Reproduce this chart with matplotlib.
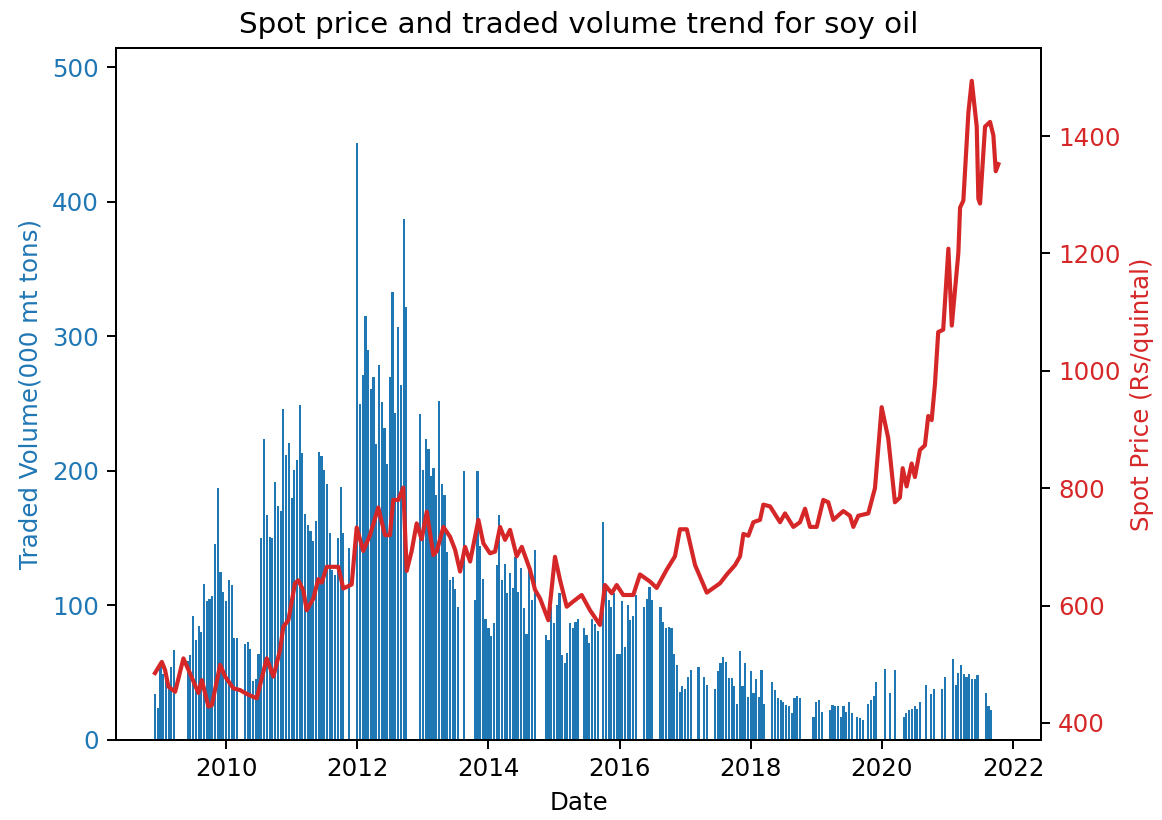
import pandas as pd
import matplotlib
matplotlib.use("Agg")
import matplotlib.pyplot as plt
import matplotlib.dates as mdates

# traded volume ('000 mt), two readings per month (1st and 16th), 0 = no trade
vol_2008 = [34, 24]  # Dec only
vol_2009 = [56, 49, 45, 39, 54, 67, 0, 0, 0, 0, 59, 63, 92, 74, 85, 80, 116, 103, 105, 107, 146, 187, 125, 110]
vol_2010 = [103, 119, 115, 76, 76, 0, 0, 71, 73, 68, 44, 45, 64, 150, 224, 167, 151, 150, 192, 174, 170, 246, 212, 221]
vol_2011 = [180, 201, 208, 249, 213, 168, 160, 155, 148, 163, 214, 211, 201, 190, 154, 126, 123, 150, 188, 154, 0, 143, 0, 0]
vol_2012 = [444, 250, 271, 315, 290, 261, 270, 220, 279, 251, 232, 205, 270, 333, 243, 307, 264, 387, 322, 0, 0, 0, 0, 242]
vol_2013 = [201, 224, 216, 196, 202, 182, 252, 190, 182, 140, 119, 121, 112, 99, 0, 200, 0, 0, 0, 104, 200, 144, 120, 90]
vol_2014 = [83, 77, 87, 130, 167, 119, 131, 109, 124, 113, 136, 110, 128, 98, 79, 126, 104, 141, 0, 0, 0, 78, 74, 99]
vol_2015 = [87, 100, 109, 63, 57, 65, 87, 83, 88, 90, 0, 83, 78, 72, 90, 86, 81, 0, 162, 112, 104, 99, 109, 64]
vol_2016 = [64, 103, 69, 100, 89, 92, 108, 0, 0, 99, 105, 114, 104, 0, 0, 99, 88, 83, 84, 83, 64, 56, 36, 40]
vol_2017 = [38, 47, 52, 0, 0, 54, 0, 47, 41, 0, 0, 38, 51, 57, 62, 58, 46, 46, 40, 27, 66, 40, 57, 32]
vol_2018 = [51, 35, 45, 32, 52, 27, 0, 0, 43, 37, 31, 30, 28, 26, 25, 20, 31, 33, 31, 0, 0, 0, 0, 17]
vol_2019 = [28, 30, 21, 0, 0, 22, 26, 25, 25, 17, 25, 21, 28, 20, 0, 17, 16, 15, 0, 27, 30, 33, 43, 0]
vol_2020 = [0, 53, 0, 35, 0, 52, 0, 0, 17, 20, 22, 23, 25, 23, 28, 0, 41, 0, 34, 38, 0, 0, 38, 47]
vol_2021 = [0, 0, 60, 41, 50, 56, 49, 47, 49, 45, 45, 48, 0, 0, 35, 25, 22]

# spot price (Rs/quintal) at decimal-year dates
price_t = [2008.918, 2009.020, 2009.070, 2009.120, 2009.223, 2009.349, 2009.451, 2009.578,
           2009.630, 2009.730, 2009.782, 2009.909, 2009.985, 2010.111, 2010.213, 2010.340,
           2010.468, 2010.620, 2010.721, 2010.823, 2010.873, 2010.950, 2011.052, 2011.102,
           2011.178, 2011.230, 2011.331, 2011.407, 2011.459, 2011.535, 2011.712, 2011.788,
           2011.916, 2011.992, 2012.093, 2012.195, 2012.322, 2012.424, 2012.500, 2012.550,
           2012.627, 2012.703, 2012.755, 2012.831, 2012.907, 2012.983, 2013.059, 2013.160,
           2013.212, 2013.313, 2013.415, 2013.491, 2013.567, 2013.643, 2013.720, 2013.846,
           2013.922, 2014.024, 2014.101, 2014.177, 2014.253, 2014.329, 2014.431, 2014.508,
           2014.634, 2014.710, 2014.787, 2014.913, 2015.015, 2015.091, 2015.194, 2015.294,
           2015.422, 2015.549, 2015.701, 2015.777, 2015.880, 2015.956, 2016.056, 2016.209,
           2016.311, 2016.463, 2016.566, 2016.718, 2016.845, 2016.921, 2017.023, 2017.149,
           2017.328, 2017.428, 2017.530, 2017.633, 2017.759, 2017.835, 2017.886, 2017.962,
           2018.038, 2018.140, 2018.191, 2018.293, 2018.445, 2018.521, 2018.648, 2018.750,
           2018.826, 2018.902, 2019.005, 2019.105, 2019.181, 2019.258, 2019.410, 2019.512,
           2019.563, 2019.639, 2019.791, 2019.893, 2019.995, 2020.096, 2020.198, 2020.274,
           2020.316, 2020.376, 2020.453, 2020.503, 2020.579, 2020.655, 2020.706, 2020.758,
           2020.808, 2020.858, 2020.934, 2021.011, 2021.063, 2021.163, 2021.189, 2021.239,
           2021.316, 2021.367, 2021.443, 2021.468, 2021.494, 2021.570, 2021.646, 2021.697,
           2021.733, 2021.773]
price = [485, 504, 490, 462, 453, 510, 484, 451,
         473, 428, 430, 499, 479, 459, 456, 448,
         442, 510, 479, 524, 564, 575, 638, 643,
         626, 592, 612, 645, 639, 666, 666, 629,
         636, 733, 693, 720, 767, 720, 720, 780,
         780, 801, 659, 693, 740, 713, 760, 686,
         693, 734, 717, 695, 658, 700, 675, 746,
         706, 689, 692, 734, 712, 729, 684, 700,
         661, 627, 612, 575, 683, 644, 598, 607,
         618, 592, 567, 635, 621, 635, 618, 618,
         653, 641, 630, 661, 684, 730, 730, 669,
         622, 630, 638, 653, 669, 684, 722, 719,
         742, 746, 772, 769, 742, 757, 734, 742,
         765, 734, 734, 780, 776, 746, 761, 753,
         734, 753, 757, 800, 938, 885, 776, 784,
         834, 803, 842, 819, 865, 873, 923, 916,
         977, 1066, 1070, 1208, 1077, 1201, 1278, 1290,
         1440, 1494, 1416, 1293, 1285, 1416, 1424, 1401,
         1340, 1352]


def year_to_date(y):
    start = pd.Timestamp(int(y), 1, 1)
    return start + pd.Timedelta(days=(y - int(y)) * 365.25)


def half_month_dates(year, n, first_slot=0):
    out = []
    for s in range(first_slot, first_slot + n):
        out.append(pd.Timestamp(year, s // 2 + 1, 1 if s % 2 == 0 else 16))
    return out


vol_dates, vols = [], []
yearly = [(2008, vol_2008, 22), (2009, vol_2009, 0), (2010, vol_2010, 0),
          (2011, vol_2011, 0), (2012, vol_2012, 0), (2013, vol_2013, 0),
          (2014, vol_2014, 0), (2015, vol_2015, 0), (2016, vol_2016, 0),
          (2017, vol_2017, 0), (2018, vol_2018, 0), (2019, vol_2019, 0),
          (2020, vol_2020, 0), (2021, vol_2021, 0)]
for yr, vals, first in yearly:
    for d, v in zip(half_month_dates(yr, len(vals), first), vals):
        if v > 0:
            vol_dates.append(d)
            vols.append(v)

price_dates = [year_to_date(t) for t in price_t]

DPI = 176
fig, ax = plt.subplots(figsize=(1162 / DPI, 820 / DPI), dpi=DPI)
fig.subplots_adjust(left=0.0998, right=0.8959, bottom=0.0976, top=0.9415)

ax.bar(vol_dates, vols, width=12, color="tab:blue")
ax.set_xlabel("Date")
ax.set_ylabel("Traded Volume(000 mt tons)", color="tab:blue")
ax.tick_params(axis="y", labelcolor="tab:blue")
ax.set_ylim(0, 514.5)
ax.set_xlim(year_to_date(2008.323), year_to_date(2022.424))
ax.xaxis.set_major_locator(mdates.YearLocator(2))
ax.xaxis.set_major_formatter(mdates.DateFormatter("%Y"))

ax2 = ax.twinx()
ax2.plot(price_dates, price, color="tab:red", linewidth=1.7)
ax2.set_ylabel("Spot Price (Rs/quintal)", color="tab:red")
ax2.tick_params(axis="y", labelcolor="tab:red")
ax2.set_ylim(371, 1550)

ax.set_title("Spot price and traded volume trend for soy oil")

fig.savefig("out.png", dpi=DPI)
